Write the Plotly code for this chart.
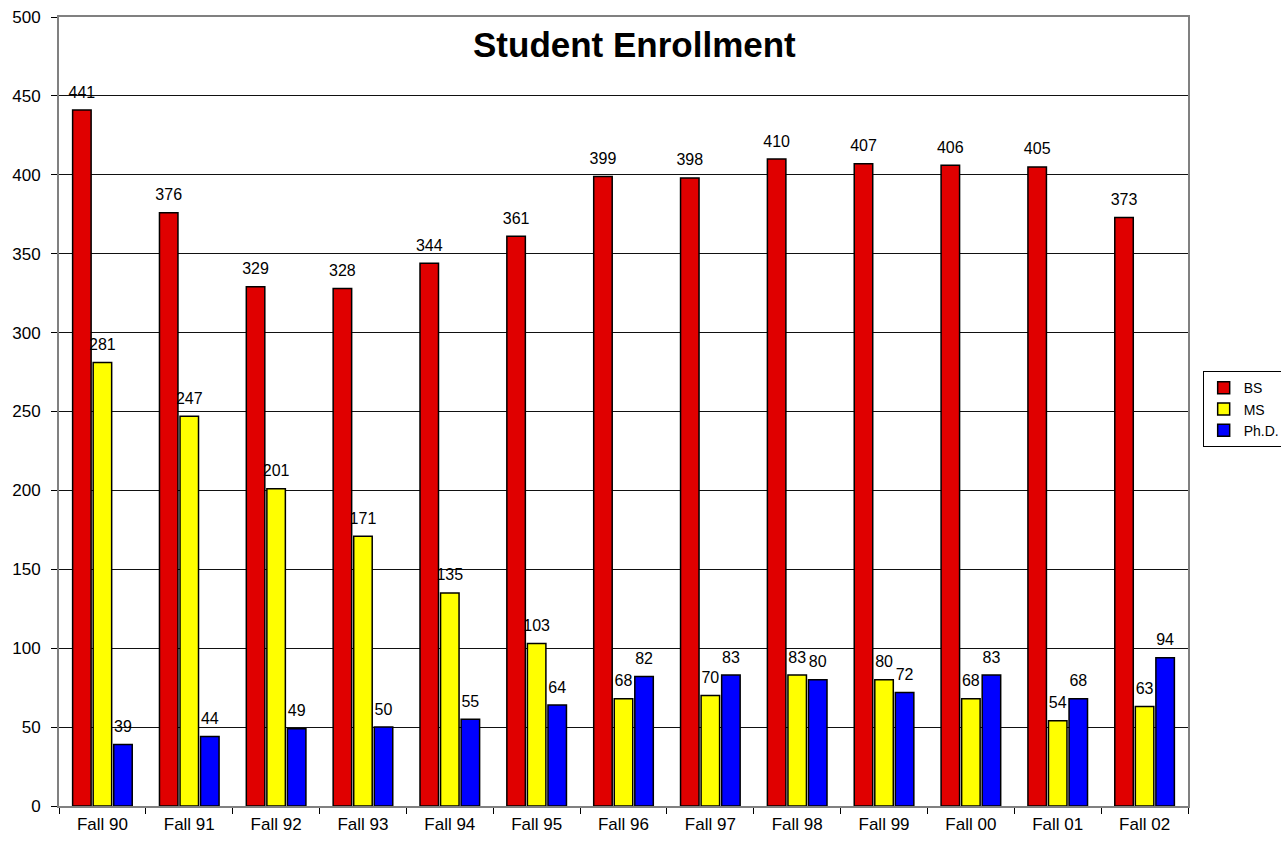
import plotly.graph_objects as go

terms = ["Fall 90", "Fall 91", "Fall 92", "Fall 93", "Fall 94", "Fall 95", "Fall 96",
         "Fall 97", "Fall 98", "Fall 99", "Fall 00", "Fall 01", "Fall 02"]
bs = [441, 376, 329, 328, 344, 361, 399, 398, 410, 407, 406, 405, 373]
ms = [281, 247, 201, 171, 135, 103, 68, 70, 83, 80, 68, 54, 63]
phd = [39, 44, 49, 50, 55, 64, 82, 83, 80, 72, 83, 68, 94]

series = [("BS", bs, "#E00000"), ("MS", ms, "#FFFF00"), ("Ph.D.", phd, "#0000FF")]

fig = go.Figure()
for name, vals, color in series:
    fig.add_trace(go.Bar(
        x=terms, y=vals, name=name, offsetgroup=name,
        marker=dict(color=color, line=dict(color="black", width=1.5)),
    ))
# value labels: text-only points grouped like the bars, lifted by an invisible marker
for name, vals, color in series:
    fig.add_trace(go.Scatter(
        x=terms, y=vals, offsetgroup=name, mode="markers+text",
        marker=dict(size=12, opacity=0),
        text=[str(v) for v in vals], textposition="top center",
        textfont=dict(family="Arial", size=16, color="black"),
        showlegend=False, hoverinfo="skip", cliponaxis=False,
    ))

fig.add_annotation(
    text="<b>Student Enrollment</b>", xref="paper", yref="paper",
    x=0.51, y=0.965, yanchor="middle", xanchor="center", showarrow=False,
    font=dict(family="Arial", size=35, color="black"),
)

fig.update_layout(
    width=1281, height=843,
    margin=dict(l=59, r=93, t=17, b=37, autoexpand=False),
    paper_bgcolor="white", plot_bgcolor="white",
    barmode="group", bargap=0.29, bargroupgap=0.1,
    scattermode="group", scattergap=0.29,
    font=dict(family="Arial", size=16, color="black"),
    legend=dict(
        x=1.013, y=0.551, xanchor="left", yanchor="top",
        bordercolor="black", borderwidth=1,
        font=dict(family="Arial", size=14, color="black"),
        tracegroupgap=0, itemwidth=30,
    ),
    showlegend=True,
)
fig.update_xaxes(
    showline=True, linecolor="#808080", linewidth=2, mirror=True,
    ticks="outside", ticklen=6, tickcolor="black", tickson="boundaries",
    showgrid=False, tickfont=dict(family="Arial", size=17),
    ticklabelstandoff=2,
)
fig.update_yaxes(
    range=[0, 500], dtick=50,
    showline=True, linecolor="#808080", linewidth=2, mirror=True,
    ticks="outside", ticklen=6, tickcolor="black",
    showgrid=True, gridcolor="#111111", gridwidth=1, zeroline=False,
    tickfont=dict(family="Arial", size=17),
    ticklabelstandoff=7,
)

fig.write_html("out.html")
